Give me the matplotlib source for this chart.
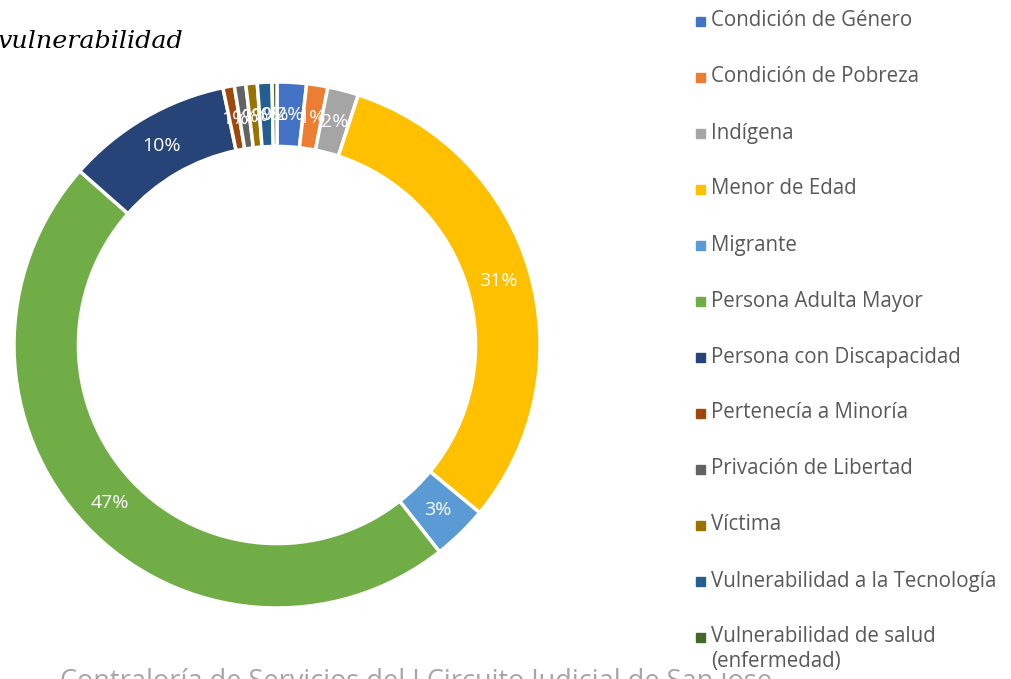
import matplotlib
matplotlib.use("Agg")
import matplotlib.pyplot as plt

categories = ["Condición de Género", "Condición de Pobreza", "Indígena", "Menor de Edad",
              "Migrante", "Persona Adulta Mayor", "Persona con Discapacidad",
              "Pertenecía a Minoría", "Privación de Libertad", "Víctima",
              "Vulnerabilidad a la Tecnología", "Vulnerabilidad de salud\n(enfermedad)"]
values = [1.8, 1.3, 1.9, 31.0, 3.4, 47.1, 10.2, 0.7, 0.7, 0.7, 0.9, 0.3]
colors = ["#4472C4", "#ED7D31", "#A5A5A5", "#FFC000", "#5B9BD5", "#70AD47",
          "#264478", "#9E480E", "#636363", "#997300", "#255E91", "#43682B"]

fig = plt.figure(figsize=(10.12, 6.79), dpi=100)
W, H = 1012, 679

fig.text(60 / W, 1 - 689 / H, "Contraloría de Servicios del I Circuito Judicial de San José",
         fontsize=19.5, family="Open Sans", color="#A6A6A6", ha="left", va="baseline", zorder=0)

cx, cy, R = 277, 345, 263
ax = fig.add_axes([(cx - R) / W, 1 - (cy + R) / H, 2 * R / W, 2 * R / H])
wedges, texts, autotexts = ax.pie(
    values, colors=colors, startangle=90, counterclock=False,
    wedgeprops=dict(width=0.245, edgecolor="white", linewidth=2.5),
    autopct=lambda p: f"{p:.0f}%", pctdistance=0.875,
    textprops=dict(color="white", fontsize=14, family="Open Sans"))
ax.set_xlim(-1, 1)
ax.set_ylim(-1, 1)
ax.set_aspect("equal")

# legend
for i, (cat, col) in enumerate(zip(categories, colors)):
    y = 21 + 56 * i
    fig.patches.append(plt.Rectangle((696 / W, 1 - (y + 5) / H), 9 / W, 9 / H,
                                     transform=fig.transFigure, color=col))
    lines = cat.split("\n")
    for j, ln in enumerate(lines):
        t = fig.text(711 / W, 1 - (y + 25 * j) / H, ln, fontsize=14.8, family="Open Sans",
                     color="#595959", va="center", ha="left")
        if j == 1:
            t.set_bbox(dict(facecolor="white", edgecolor="none", pad=0))

fig.text(183 / W, 1 - 41 / H, "vulnerabilidad",
         fontsize=18.3, family="DejaVu Serif", style="italic", ha="right", va="center")

fig.savefig("out.png", dpi=100)
